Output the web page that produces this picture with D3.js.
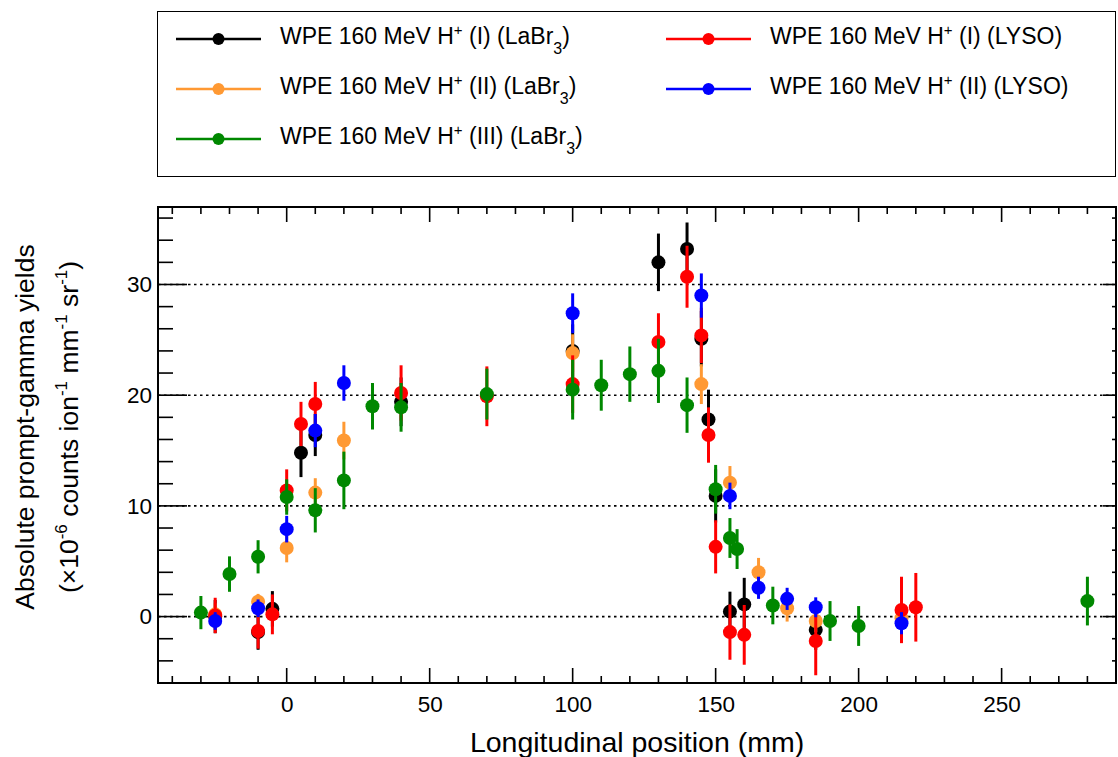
<!DOCTYPE html>
<html><head><meta charset="utf-8">
<script src="https://cdn.jsdelivr.net/npm/d3@7/dist/d3.min.js"></script>
<style>body{margin:0;background:#fff}svg{display:block;font-family:"Liberation Sans",Arial,sans-serif}</style>
</head><body>
<svg id="c" width="1118" height="757"></svg>
<script>
// Data: [position mm, yield, error]
const blackI = [[-25,0.0,1.5],[-10,-1.4,1.6],[-5,0.7,1.6],[5,14.8,2.2],[10,16.4,1.9],[40,19.4,2.2],[100,24.0,2.4],[130,32.0,2.6],[140,33.2,2.4],[145,25.1,2.5],[147.5,17.8,2.7],[150,10.9,2.4],[155,0.45,1.8],[160,1.1,2.4],[185,-1.2,1.8]];
const orangeII = [[-25,0.2,1.0],[-10,1.35,0.7],[0,6.2,1.3],[10,11.2,1.3],[20,15.9,1.7],[100,23.8,1.7],[145,21.0,1.8],[155,12.1,1.5],[165,4.0,1.3],[175,0.75,1.2],[185,-0.4,1.0],[215,-0.15,1.2]];
const redI = [[-25,0.1,1.6],[-10,-1.3,1.6],[-5,0.2,1.8],[0,11.4,1.9],[5,17.4,2.0],[10,19.2,2.0],[40,20.2,2.5],[70,19.9,2.7],[100,21.0,2.6],[130,24.8,2.6],[140,30.7,2.8],[145,25.4,2.5],[147.5,16.4,2.5],[150,6.3,2.4],[155,-1.4,2.5],[160,-1.65,2.7],[185,-2.2,3.1],[215,0.6,3.0],[220,0.84,3.1]];
const greenIII = [[-30,0.36,1.5],[-20,3.84,1.6],[-10,5.4,1.5],[0,10.8,1.6],[10,9.6,2.0],[20,12.3,2.6],[30,19.0,2.1],[40,18.9,2.2],[70,20.1,2.3],[100,20.5,2.7],[110,20.9,2.3],[120,21.9,2.5],[130,22.2,2.9],[140,19.1,2.5],[150,11.5,2.2],[155,7.1,1.8],[157.5,6.1,1.8],[170,1.0,1.7],[190,-0.4,1.8],[200,-0.85,1.8],[280,1.4,2.2]];
const blueII = [[-25,-0.4,0.8],[-10,0.75,0.8],[0,7.9,1.2],[10,16.8,1.5],[20,21.1,1.6],[100,27.4,1.8],[145,29.0,2.0],[155,10.9,1.2],[165,2.6,1.0],[175,1.6,1.0],[185,0.84,0.9],[215,-0.6,1.0]];

const xMajor = [0,50,100,150,200,250];
const yMajor = [0,10,20,30];

const svg = d3.select("#c");
const L=158, R=1116, T=207, B=683;
const x = d3.scaleLinear().domain([-45,290]).range([L,R]);
const y = d3.scaleLinear().domain([-6,37]).range([B,T]);

// grid
svg.append("g").selectAll("line").data(yMajor).join("line")
  .attr("x1",L).attr("x2",R).attr("y1",d=>y(d)).attr("y2",d=>y(d))
  .attr("stroke","#000").attr("stroke-width",1.6).attr("stroke-dasharray","2.5,3.5");

// ticks
const tk = svg.append("g").attr("stroke","#000").attr("stroke-width",1.6);
const xMinor = d3.range(-40,291,10);
xMinor.forEach(v=>{
  const maj = xMajor.includes(v); const len = maj?15:7;
  tk.append("line").attr("x1",x(v)).attr("x2",x(v)).attr("y1",B).attr("y2",B-len);
  tk.append("line").attr("x1",x(v)).attr("x2",x(v)).attr("y1",T).attr("y2",T+len);
});
const yMinor = d3.range(-4,37,2);
yMinor.forEach(v=>{
  const maj = yMajor.includes(v);
  tk.append("line").attr("x1",L).attr("x2",L+(maj?29:15)).attr("y1",y(v)).attr("y2",y(v));
  tk.append("line").attr("x1",R).attr("x2",R-(maj?13:4)).attr("y1",y(v)).attr("y2",y(v));
});

// axis labels via d3 axes (ticks hidden, text only)
const xAxis = svg.append("g").attr("transform",`translate(0,${B})`)
  .call(d3.axisBottom(x).tickValues(xMajor).tickSize(0).tickPadding(13).tickFormat(d3.format("d")));
xAxis.select(".domain").remove();
xAxis.selectAll("text").attr("font-size",22.5).attr("font-family","Liberation Sans, Arial, sans-serif").attr("fill","#000");
const yAxis = svg.append("g").attr("transform",`translate(${L},0)`)
  .call(d3.axisLeft(y).tickValues(yMajor).tickSize(0).tickPadding(6).tickFormat(d3.format("d")));
yAxis.select(".domain").remove();
yAxis.selectAll("text").attr("font-size",22.5).attr("font-family","Liberation Sans, Arial, sans-serif").attr("fill","#000");

// series
const series = [
  {name:"I", det:"LaBr", color:"#000000", data:blackI},
  {name:"II", det:"LaBr", color:"#ff9933", data:orangeII},
  {name:"I", det:"LYSO", color:"#ff0000", data:redI},
  {name:"III", det:"LaBr", color:"#008800", data:greenIII},
  {name:"II", det:"LYSO", color:"#0000ff", data:blueII}
];
series.forEach(s=>{
  const g = svg.append("g");
  g.selectAll("line").data(s.data).join("line")
    .attr("x1",d=>x(d[0])).attr("x2",d=>x(d[0]))
    .attr("y1",d=>y(d[1]-d[2])).attr("y2",d=>y(d[1]+d[2]))
    .attr("stroke",s.color).attr("stroke-width",3);
  g.selectAll("circle").data(s.data).join("circle")
    .attr("cx",d=>x(d[0])).attr("cy",d=>y(d[1])).attr("r",7).attr("fill",s.color);
});

// frame
svg.append("rect").attr("x",L).attr("y",T).attr("width",R-L).attr("height",B-T)
  .attr("fill","none").attr("stroke","#000").attr("stroke-width",2);

// axis titles
svg.append("text").attr("x",(L+R)/2).attr("y",752).attr("text-anchor","middle")
  .attr("font-size",28.5).text("Longitudinal position (mm)");
const yt = svg.append("g").attr("transform","translate(0,427) rotate(-90)");
yt.append("text").attr("x",0).attr("y",34).attr("text-anchor","middle").attr("font-size",26.5)
  .text("Absolute prompt-gamma yields");
const t2 = yt.append("text").attr("x",0).attr("y",78).attr("text-anchor","middle").attr("font-size",26.5);
t2.append("tspan").text("(\u00d710");
t2.append("tspan").attr("dy",-11).attr("font-size",17).text("-6");
t2.append("tspan").attr("dy",11).text(" counts ion");
t2.append("tspan").attr("dy",-11).attr("font-size",17).text("-1");
t2.append("tspan").attr("dy",11).text(" mm");
t2.append("tspan").attr("dy",-11).attr("font-size",17).text("-1");
t2.append("tspan").attr("dy",11).text(" sr");
t2.append("tspan").attr("dy",-11).attr("font-size",17).text("-1");
t2.append("tspan").attr("dy",11).text(")");

// legend
svg.append("rect").attr("x",157.5).attr("y",11.5).attr("width",958).attr("height",165)
  .attr("fill","#fff").attr("stroke","#000").attr("stroke-width",1);
const legPos = [[0,0],[0,1],[1,0],[0,2],[1,1]];
const colX = [176,666], rowY = [39,89,139];
series.forEach((s,i)=>{
  const [c,r] = legPos[i];
  const lx = colX[c], ly = rowY[r];
  const g = svg.append("g");
  g.append("line").attr("x1",lx).attr("x2",lx+85).attr("y1",ly).attr("y2",ly).attr("stroke",s.color).attr("stroke-width",2.5);
  g.append("circle").attr("cx",lx+42.5).attr("cy",ly).attr("r",6).attr("fill",s.color);
  const t = g.append("text").attr("x",lx+104).attr("y",ly+5).attr("font-size",23);
  t.append("tspan").text("WPE 160 MeV H");
  t.append("tspan").attr("dy",-9).attr("font-size",15).text("+");
  t.append("tspan").attr("dy",9).text(` (${s.name}) (`);
  if(s.det==="LaBr"){
    t.append("tspan").text("LaBr");
    t.append("tspan").attr("dy",10).attr("font-size",16).text("3");
    t.append("tspan").attr("dy",-10).text(")");
  } else {
    t.append("tspan").text("LYSO)");
  }
});
</script>
</body></html>
